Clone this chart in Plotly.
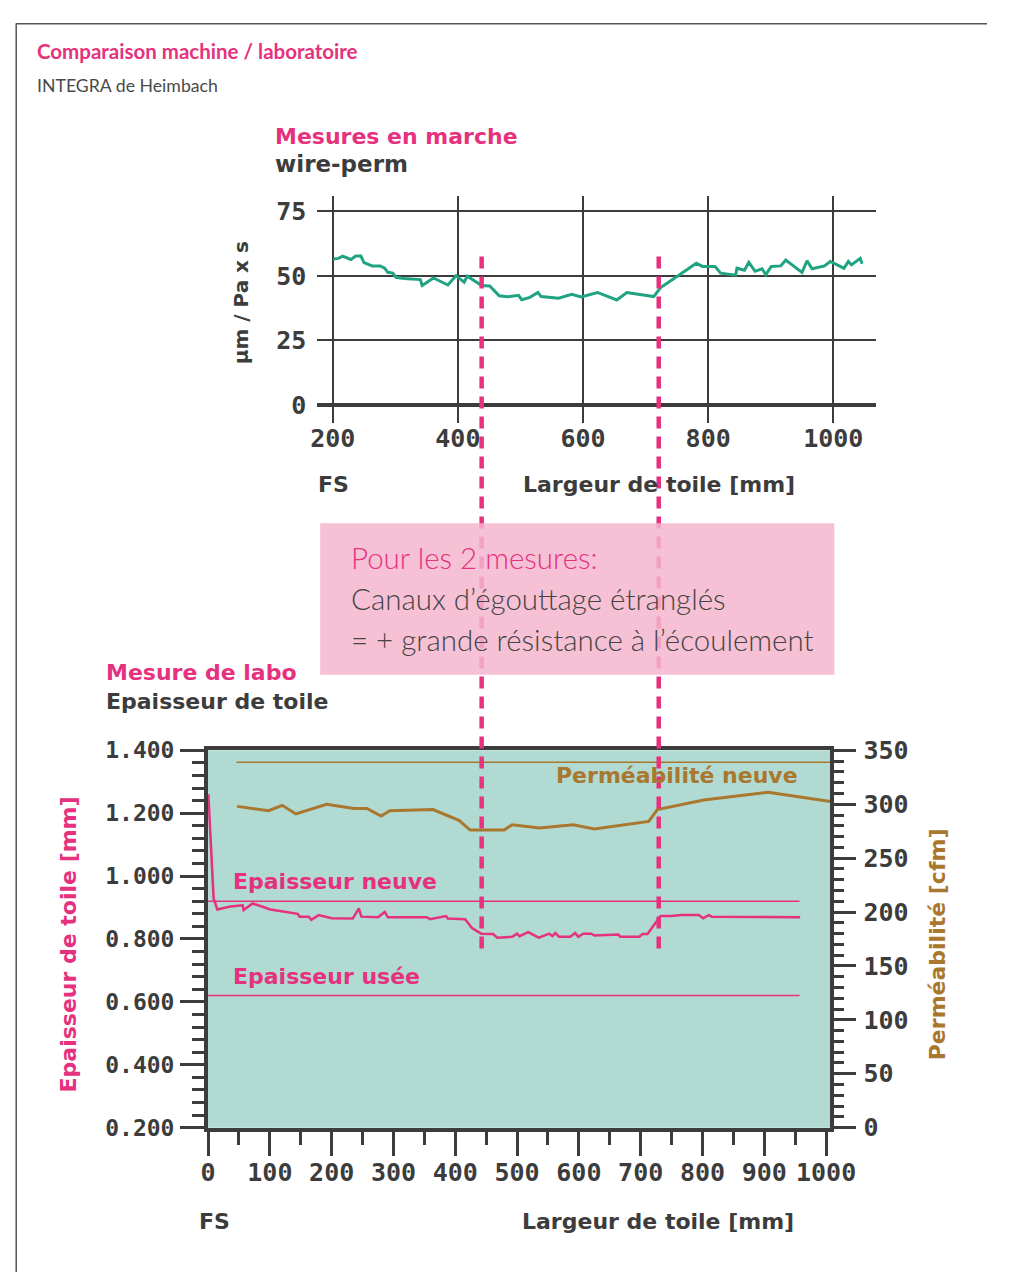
import plotly.graph_objects as go

# ---------------- data ----------------
# Top chart: on-machine wire permeability (µm / Pa x s) vs fabric width [mm]
top_x = [201, 209, 216, 229, 237, 245, 250, 263, 276, 283, 288, 296, 301, 314, 340, 343, 361, 384, 397, 410,
         415, 422, 438, 451, 466, 479, 497, 502, 515, 528, 533, 561, 582, 597, 623, 654, 670, 713, 724, 752,
         781, 791, 811, 820, 844, 846, 858, 865, 875, 886, 892, 901, 916, 924, 950, 958, 966, 986, 995, 1017,
         1024, 1029, 1043, 1046]
top_y = [56.6, 56.8, 57.7, 56.4, 57.7, 57.7, 55.2, 53.9, 53.9, 53.0, 51.4, 51.1, 49.5, 49.0, 48.6, 46.3, 49.2, 46.5, 50.1, 47.6,
         49.9, 48.9, 46.3, 46.1, 42.3, 41.9, 42.5, 40.8, 41.7, 43.6, 42.0, 41.4, 42.9, 41.9, 43.6, 40.7, 43.6, 42.0, 45.5, 50.1,
         54.9, 53.7, 53.7, 51.1, 50.3, 53.0, 52.2, 55.3, 51.8, 52.8, 50.5, 53.7, 53.9, 56.2, 51.4, 55.9, 52.8, 53.9, 55.6, 53.0,
         55.6, 54.3, 56.8, 54.7]
top_xticks = [200, 400, 600, 800, 1000]
top_yticks = [0, 25, 50, 75]

# Bottom chart: lab measurements
perm_x = [47, 98, 120, 142, 192, 236, 257, 280, 294, 364, 385, 406, 424, 479, 492, 536, 591, 625, 713, 727, 802, 906, 1007]
perm_y = [298, 294, 299, 291, 300, 296, 296, 289, 294, 295, 290, 285, 276, 276, 281, 278, 281, 277, 284, 295, 304, 311, 302.5]

thk_x = [0.5, 9, 15, 36, 56, 57.5, 72, 101, 145, 148, 163, 167, 179, 200, 234, 244, 248, 275, 286, 291,
         354, 359, 385, 388, 416, 427, 442, 461, 468, 492, 500, 504, 518, 535, 552, 557, 562, 568, 586, 594,
         599, 607, 620, 625, 664, 667, 698, 703, 711, 732, 750, 766, 794, 801, 810, 815, 958]
thk_y = [1.26, 0.929, 0.894, 0.903, 0.907, 0.892, 0.913, 0.894, 0.88, 0.871, 0.871, 0.861, 0.876, 0.866, 0.865, 0.897, 0.871, 0.869, 0.886, 0.869,
         0.869, 0.863, 0.873, 0.865, 0.863, 0.835, 0.817, 0.816, 0.804, 0.807, 0.817, 0.809, 0.822, 0.804, 0.817, 0.809, 0.819, 0.807, 0.807, 0.819,
         0.807, 0.817, 0.817, 0.811, 0.814, 0.807, 0.807, 0.816, 0.816, 0.873, 0.873, 0.876, 0.876, 0.866, 0.876, 0.871, 0.869]

new_perm = 339          # cfm, "Perméabilité neuve"
new_perm_span = [46, 1007]
new_thickness = 0.92    # mm, "Epaisseur neuve"
worn_thickness = 0.62   # mm, "Epaisseur usée"
thickness_ref_span = [0, 957]
constriction_zone = [438, 721]   # mm, dashed markers

bottom_xticks = [0, 100, 200, 300, 400, 500, 600, 700, 800, 900, 1000]

# ---------------- styling ----------------
W, H = 1013, 1287
PINK = "#e5317e"
GREEN = "#1fa383"
BROWN = "#a9772e"
DARK = "#3c3c3c"
TEAL = "#b1dad2"
MONO = "DejaVu Sans Mono"
SANS = "DejaVu Sans"
LATO = "Lato, Liberation Sans, sans-serif"


def px(x):
    return x / W


def py(y):
    return 1 - y / H


fig = go.Figure()

fig.add_trace(go.Scatter(x=top_x, y=top_y, mode="lines", line=dict(color=GREEN, width=3),
                         xaxis="x", yaxis="y", showlegend=False))

fig.add_trace(go.Scatter(x=new_perm_span, y=[new_perm, new_perm], mode="lines",
                         line=dict(color=BROWN, width=1.5), xaxis="x2", yaxis="y3", showlegend=False))
fig.add_trace(go.Scatter(x=perm_x, y=perm_y, mode="lines", line=dict(color=BROWN, width=3),
                         xaxis="x2", yaxis="y3", showlegend=False))
fig.add_trace(go.Scatter(x=thickness_ref_span, y=[new_thickness] * 2, mode="lines",
                         line=dict(color=PINK, width=1.5), xaxis="x2", yaxis="y2", showlegend=False))
fig.add_trace(go.Scatter(x=thickness_ref_span, y=[worn_thickness] * 2, mode="lines",
                         line=dict(color=PINK, width=1.5), xaxis="x2", yaxis="y2", showlegend=False))
fig.add_trace(go.Scatter(x=thk_x, y=thk_y, mode="lines", line=dict(color=PINK, width=2.5),
                         xaxis="x2", yaxis="y2", showlegend=False))

tick_top = dict(family=MONO, size=25, color=DARK, weight="bold")
tick_bot = dict(family=MONO, size=25, color=DARK, weight="bold")

fig.update_layout(
    width=W, height=H,
    margin=dict(l=0, r=0, t=0, b=0),
    paper_bgcolor="white", plot_bgcolor="rgba(0,0,0,0)",
    showlegend=False,
    xaxis=dict(domain=[px(320), px(898)], range=[175.3, 1068], anchor="y",
               tickvals=top_xticks, showgrid=True, gridcolor=DARK, gridwidth=2,
               zeroline=False, showline=False, ticks="", tickfont=tick_top, ticklabelstandoff=-2),
    yaxis=dict(domain=[py(418), py(186)], range=[-6.82, 81.06], anchor="x",
               tickvals=top_yticks, showgrid=True, gridcolor=DARK, gridwidth=2,
               zeroline=True, zerolinecolor=DARK, zerolinewidth=3.5,
               showline=False, ticks="", tickfont=tick_top, ticklabelstandoff=10),
    xaxis2=dict(domain=[px(207), px(851)], range=[0, 1007], anchor="y2",
                tickvals=bottom_xticks, showgrid=False, zeroline=False,
                showline=True, linewidth=4, linecolor=DARK, mirror=True,
                ticks="outside", ticklen=24, tickwidth=2.5, tickcolor=DARK,
                minor=dict(dtick=50, tick0=0, ticks="outside", ticklen=13, tickwidth=2.5, tickcolor=DARK),
                tickfont=tick_bot, ticklabelstandoff=-5),
    yaxis2=dict(domain=[py(1139.3), py(753.3)], range=[0.2, 1.4], anchor="x2",
                tick0=0.2, dtick=0.2, tickformat=".3f", showgrid=False, zeroline=False,
                showline=True, linewidth=4, linecolor=DARK, mirror=True,
                ticks="outside", ticklen=24, tickwidth=2.5, tickcolor=DARK,
                minor=dict(dtick=0.04, tick0=0.2, ticks="outside", ticklen=12, tickwidth=2.5, tickcolor=DARK),
                tickfont=dict(family=MONO, size=23, color=DARK, weight="bold"), ticklabelstandoff=1),
    yaxis3=dict(overlaying="y2", side="right", anchor="x2", range=[0, 350],
                tick0=0, dtick=50, showgrid=False, zeroline=False, showline=False,
                ticks="outside", ticklen=25, tickwidth=2.5, tickcolor=DARK,
                minor=dict(dtick=10, tick0=0, ticks="outside", ticklen=13, tickwidth=2.5, tickcolor=DARK),
                tickfont=tick_bot, ticklabelstandoff=2),
)

shapes = []
# teal plot background for lower chart
shapes.append(dict(type="rect", xref="x2 domain", yref="y2 domain", x0=0, x1=1, y0=0, y1=1,
                   fillcolor=TEAL, line=dict(width=0), layer="below"))
# outer frame (top and left)
shapes.append(dict(type="line", xref="paper", yref="paper", x0=px(8), x1=1, y0=py(10), y1=py(10),
                   line=dict(color="#555555", width=1.5)))
shapes.append(dict(type="line", xref="paper", yref="paper", x0=px(8.5), x1=px(8.5), y0=0, y1=py(10),
                   line=dict(color="#555555", width=1.5)))
# dashed constriction markers (pattern starts at the top end)
for xv in constriction_zone:
    shapes.append(dict(type="line", xref="x", yref="paper", x0=xv, x1=xv, y0=py(248), y1=py(963),
                       line=dict(color=PINK, width=4.5, dash="12px,8px"), layer="above"))
# pink comment box
shapes.append(dict(type="rect", xref="paper", yref="paper", x0=px(323), x1=px(855), y0=py(676), y1=py(521),
                   fillcolor="rgba(245,181,206,0.85)", line=dict(width=0), layer="above"))
fig.update_layout(shapes=shapes)

ann = []


def text(t, x, y, size, color, family=SANS, weight="bold", xanchor="left", angle=0):
    ann.append(dict(text=t, x=px(x), y=py(y), xref="paper", yref="paper", showarrow=False,
                    xanchor=xanchor, yanchor="middle", textangle=angle,
                    font=dict(family=family, size=size, color=color, weight=weight)))


text("Comparaison machine / laboratoire", 28, 38, 20.5, PINK, family=LATO)
text("INTEGRA de Heimbach", 28, 73, 17.7, "#4a4a4a", family=LATO, weight=400)

text("Mesures en marche", 274, 125, 22, PINK)
text("wire-perm", 274, 153, 23, DARK)
text("µm / Pa x s", 241, 295, 20, DARK, xanchor="center", angle=-90)
text("FS", 337, 481, 22, DARK, xanchor="center")
text("Largeur de toile [mm]", 674, 481, 22, DARK, xanchor="center")

text("Pour les 2 mesures:", 353, 556, 29.5, PINK, family=LATO, weight=300)
text("Canaux d’égouttage étranglés", 353, 598, 29.5, "#444444", family=LATO, weight=300)
text("= + grande résistance à l’écoulement", 353, 640, 29.5, "#444444", family=LATO, weight=300)

text("Mesure de labo", 99, 674, 22, PINK)
text("Epaisseur de toile", 99, 703, 22, DARK)

text("Perméabilité neuve", 819, 779, 22, BROWN, xanchor="right")
text("Epaisseur neuve", 231, 887, 22, PINK)
text("Epaisseur usée", 231, 985, 22, PINK)

text("Epaisseur de toile [mm]", 63, 952, 22, PINK, xanchor="center", angle=-90)
text("Perméabilité [cfm]", 962, 952, 22, BROWN, xanchor="center", angle=-90)
text("FS", 214, 1235, 22, DARK, xanchor="center")
text("Largeur de toile [mm]", 673, 1235, 22, DARK, xanchor="center")

fig.update_layout(annotations=ann)

fig.write_html(
    "out.html",
    config={"displayModeBar": False},
    post_script="document.body.style.margin='0';document.body.style.padding='0';"
                "document.documentElement.style.overflow='hidden';",
)
